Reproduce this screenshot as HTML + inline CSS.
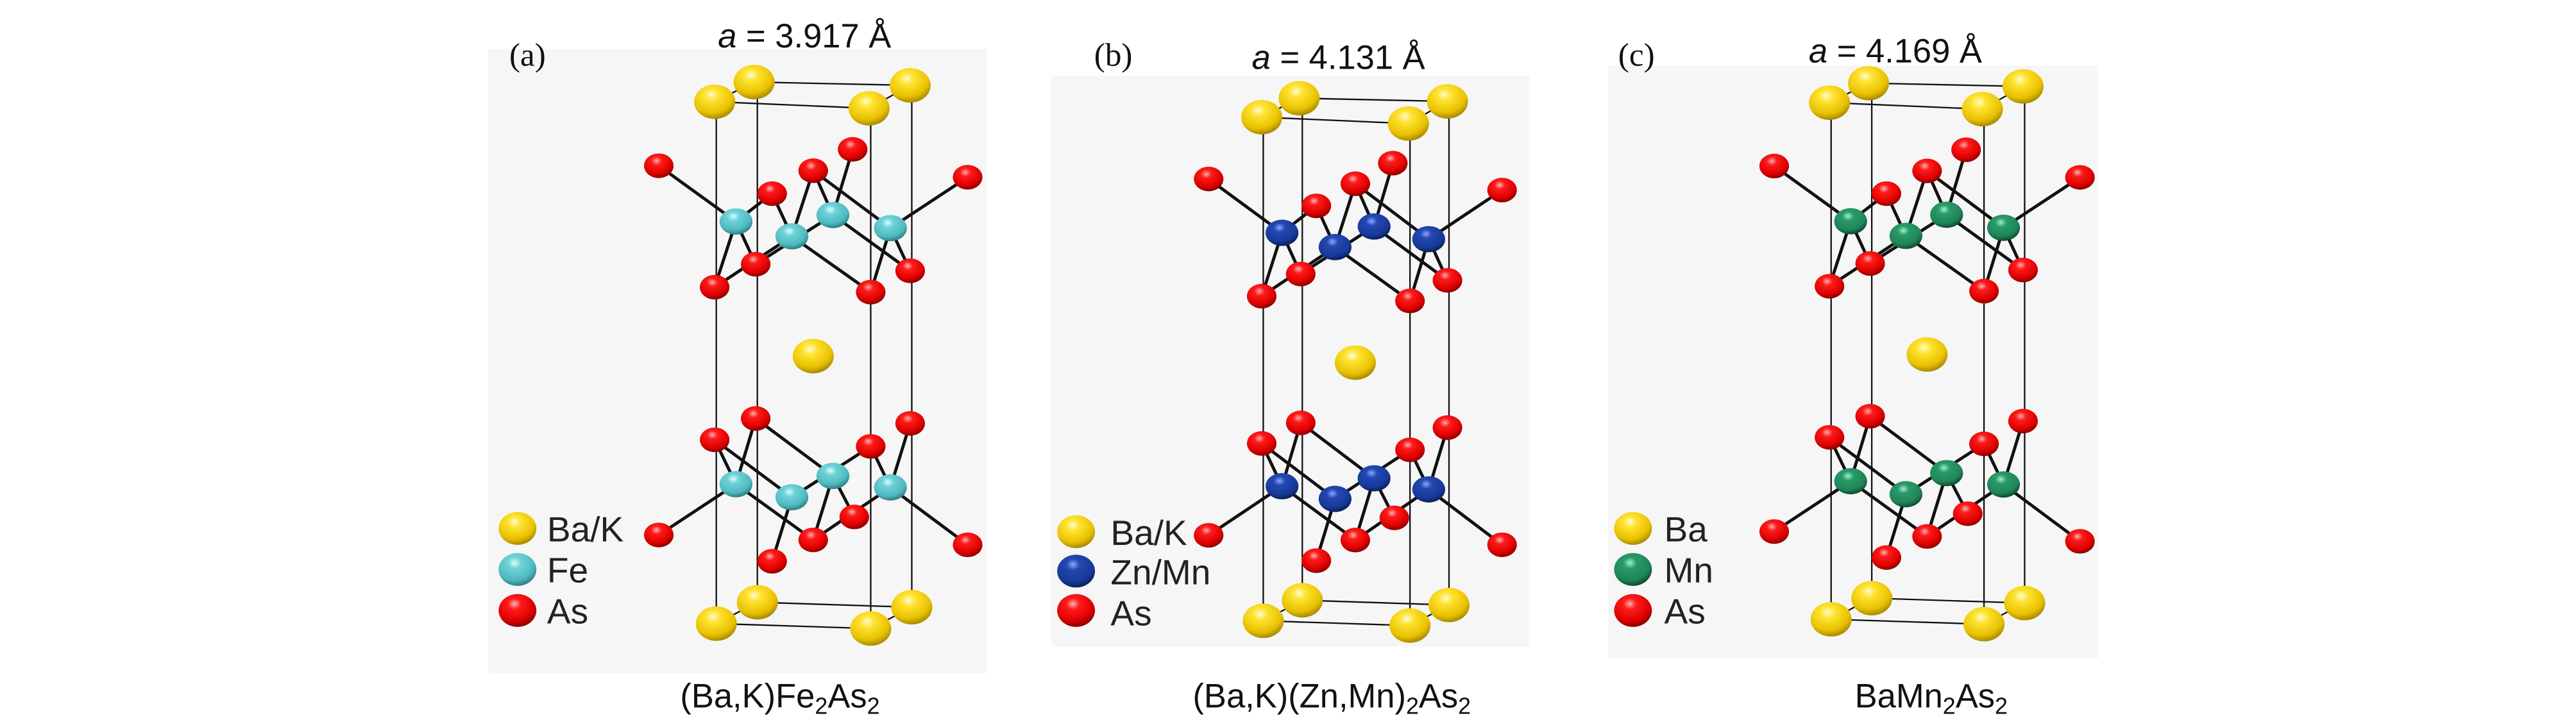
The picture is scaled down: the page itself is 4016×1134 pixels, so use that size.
<!DOCTYPE html>
<html><head><meta charset="utf-8"><style>
html,body{margin:0;padding:0;background:#fff;}
svg{display:block;}
</style></head><body>
<svg id="s" width="4016" height="1134" viewBox="0 0 1568 443" preserveAspectRatio="none" xmlns="http://www.w3.org/2000/svg">
<defs>
<radialGradient id="gY" cx="0.42" cy="0.3" r="0.7"><stop offset="0" stop-color="#fffbd0"/><stop offset="0.25" stop-color="#ffe330"/><stop offset="0.75" stop-color="#e8c000"/><stop offset="1" stop-color="#a88a00"/></radialGradient>
<radialGradient id="gR" cx="0.42" cy="0.3" r="0.7"><stop offset="0" stop-color="#ffb0b0"/><stop offset="0.25" stop-color="#ff1a1a"/><stop offset="0.75" stop-color="#dd0000"/><stop offset="1" stop-color="#8a0000"/></radialGradient>
<radialGradient id="gC" cx="0.42" cy="0.3" r="0.7"><stop offset="0" stop-color="#d8ffff"/><stop offset="0.25" stop-color="#6fd3d8"/><stop offset="0.75" stop-color="#4fb8c0"/><stop offset="1" stop-color="#2e7e85"/></radialGradient>
<radialGradient id="gB" cx="0.42" cy="0.3" r="0.7"><stop offset="0" stop-color="#8aa6ff"/><stop offset="0.25" stop-color="#2348b0"/><stop offset="0.75" stop-color="#17399a"/><stop offset="1" stop-color="#0a1f5a"/></radialGradient>
<radialGradient id="gG" cx="0.42" cy="0.3" r="0.7"><stop offset="0" stop-color="#9ff0c8"/><stop offset="0.25" stop-color="#2a9a6a"/><stop offset="0.75" stop-color="#1f8558"/><stop offset="1" stop-color="#0e4a30"/></radialGradient>
</defs>
<rect x="297" y="30" width="304" height="380" fill="#f6f6f6"/>
<rect x="640" y="46" width="291" height="348" fill="#f6f6f6"/>
<rect x="979" y="40" width="298" height="361" fill="#f6f6f6"/>
<g id="cells"></g>
<g font-family="'Liberation Serif',serif" font-size="20" fill="#111">
<text x="310" y="40">(a)</text><text x="666" y="40">(b)</text><text x="985" y="40">(c)</text>
</g>
<g font-family="'Liberation Sans',sans-serif" font-size="20.5" fill="#111">
<text x="437" y="29"><tspan font-style="italic">a</tspan> = 3.917 Å</text>
<text x="762" y="42"><tspan font-style="italic">a</tspan> = 4.131 Å</text>
<text x="1101" y="38"><tspan font-style="italic">a</tspan> = 4.169 Å</text>
<text x="414" y="431">(Ba,K)Fe<tspan font-size="14" dy="4">2</tspan><tspan dy="-4">As</tspan><tspan font-size="14" dy="4">2</tspan></text>
<text x="726" y="431">(Ba,K)(Zn,Mn)<tspan font-size="14" dy="4">2</tspan><tspan dy="-4">As</tspan><tspan font-size="14" dy="4">2</tspan></text>
<text x="1129" y="431">BaMn<tspan font-size="14" dy="4">2</tspan><tspan dy="-4">As</tspan><tspan font-size="14" dy="4">2</tspan></text>
</g>
<g font-family="'Liberation Sans',sans-serif" font-size="21.5" fill="#222">
<text x="333" y="330">Ba/K</text><text x="333" y="355">Fe</text><text x="333" y="380">As</text>
<text x="676" y="332">Ba/K</text><text x="676" y="356">Zn/Mn</text><text x="676" y="381">As</text>
<text x="1013" y="330">Ba</text><text x="1013" y="355">Mn</text><text x="1013" y="380">As</text>
</g>
<g>
<ellipse cx="315" cy="322" rx="11.5" ry="10" fill="url(#gY)"/><ellipse cx="315" cy="347" rx="11.5" ry="10" fill="url(#gC)"/><ellipse cx="315" cy="372" rx="11.5" ry="10" fill="url(#gR)"/>
<ellipse cx="655" cy="324" rx="11.5" ry="10" fill="url(#gY)"/><ellipse cx="655" cy="348" rx="11.5" ry="10" fill="url(#gB)"/><ellipse cx="655" cy="372" rx="11.5" ry="10" fill="url(#gR)"/>
<ellipse cx="994" cy="322" rx="11.5" ry="10" fill="url(#gY)"/><ellipse cx="994" cy="347" rx="11.5" ry="10" fill="url(#gG)"/><ellipse cx="994" cy="372" rx="11.5" ry="10" fill="url(#gR)"/>
</g>
</svg>
<script>
(function(){
var NS="http://www.w3.org/2000/svg";
var root=document.getElementById("cells");
var Ba=[[459,50],[435,62],[554,52],[529,66],[461,367],[436,380],[555,370],[530,383],[495,217]];
var AsT={a:[401,101],b:[519,91],c:[589,108],d:[495,104],e:[470,118],f:[460,161],g:[435,175],h:[530,178],i:[554,165]};
var FeT={A:[448,135],B:[482,144],C:[507,131],D:[542,139]};
var AsB={a:[435,268],b:[460,255],c:[530,272],d:[554,258],e:[401,326],f:[495,329],g:[520,315],h:[470,342],i:[589,332]};
var FeB={A:[448,295],B:[482,303],C:[507,290],D:[542,297]};
var bT=[["a","A"],["e","A"],["g","A"],["f","A"],["e","B"],["d","B"],["d","C"],["b","C"],["d","D"],["c","D"],["h","D"],["i","D"],["h","B"],["g","B"],["i","C"],["f","C"]];
var bB=[["e","A"],["a","A"],["b","A"],["f","A"],["a","B"],["b","C"],["h","B"],["c","B"],["f","C"],["g","C"],["c","D"],["d","D"],["i","D"],["f","D"]];
var cellL=[[435,62,529,66],[459,50,554,52],[435,62,459,50],[529,66,554,52],[436,380,530,383],[461,367,555,370],[436,380,461,367],[530,383,555,370],[436,62,436,380],[461,50,461,367],[530,66,530,383],[555,52,555,370]];
function panel(tx,ty,sx,sy,mcol){
 var cx=495,cy=217;
 function P(p){return [tx+cx+(p[0]-cx)*sx, ty+cy+(p[1]-cy)*sy];}
 var g=document.createElementNS(NS,"g");root.appendChild(g);
 function line(a,b,w){var l=document.createElementNS(NS,"line");l.setAttribute("x1",a[0]);l.setAttribute("y1",a[1]);l.setAttribute("x2",b[0]);l.setAttribute("y2",b[1]);l.setAttribute("stroke","#111");l.setAttribute("stroke-width",w);g.appendChild(l);}
 function ell(p,rx,ry,f){var e=document.createElementNS(NS,"ellipse");e.setAttribute("cx",p[0]);e.setAttribute("cy",p[1]);e.setAttribute("rx",rx);e.setAttribute("ry",ry);e.setAttribute("fill",f);g.appendChild(e);}
 cellL.forEach(function(c){line(P([c[0],c[1]]),P([c[2],c[3]]),0.9);});
 bT.forEach(function(b){line(P(AsT[b[0]]),P(FeT[b[1]]),1.9);});
 bB.forEach(function(b){line(P(AsB[b[0]]),P(FeB[b[1]]),1.9);});
 ["b","d","e","f","i"].forEach(function(k){ell(P(AsT[k]),9,7.5,"url(#gR)");});
 ["A","B","C","D"].forEach(function(k){ell(P(FeT[k]),10,8,mcol);});
 ["a","c","g","h"].forEach(function(k){ell(P(AsT[k]),9,7.5,"url(#gR)");});
 ["a","b","d","g"].forEach(function(k){ell(P(AsB[k]),9,7.5,"url(#gR)");});
 ["A","B","C","D"].forEach(function(k){ell(P(FeB[k]),10,8,mcol);});
 ["c","e","f","h","i"].forEach(function(k){ell(P(AsB[k]),9,7.5,"url(#gR)");});
 Ba.forEach(function(p){ell(P(p),12.5,10.5,"url(#gY)");});
}
panel(0,0,1,1,"url(#gC)");
panel(330,4,0.95,0.965,"url(#gB)");
panel(678,-1,0.99,0.99,"url(#gG)");
})();
</script>
</body></html>
